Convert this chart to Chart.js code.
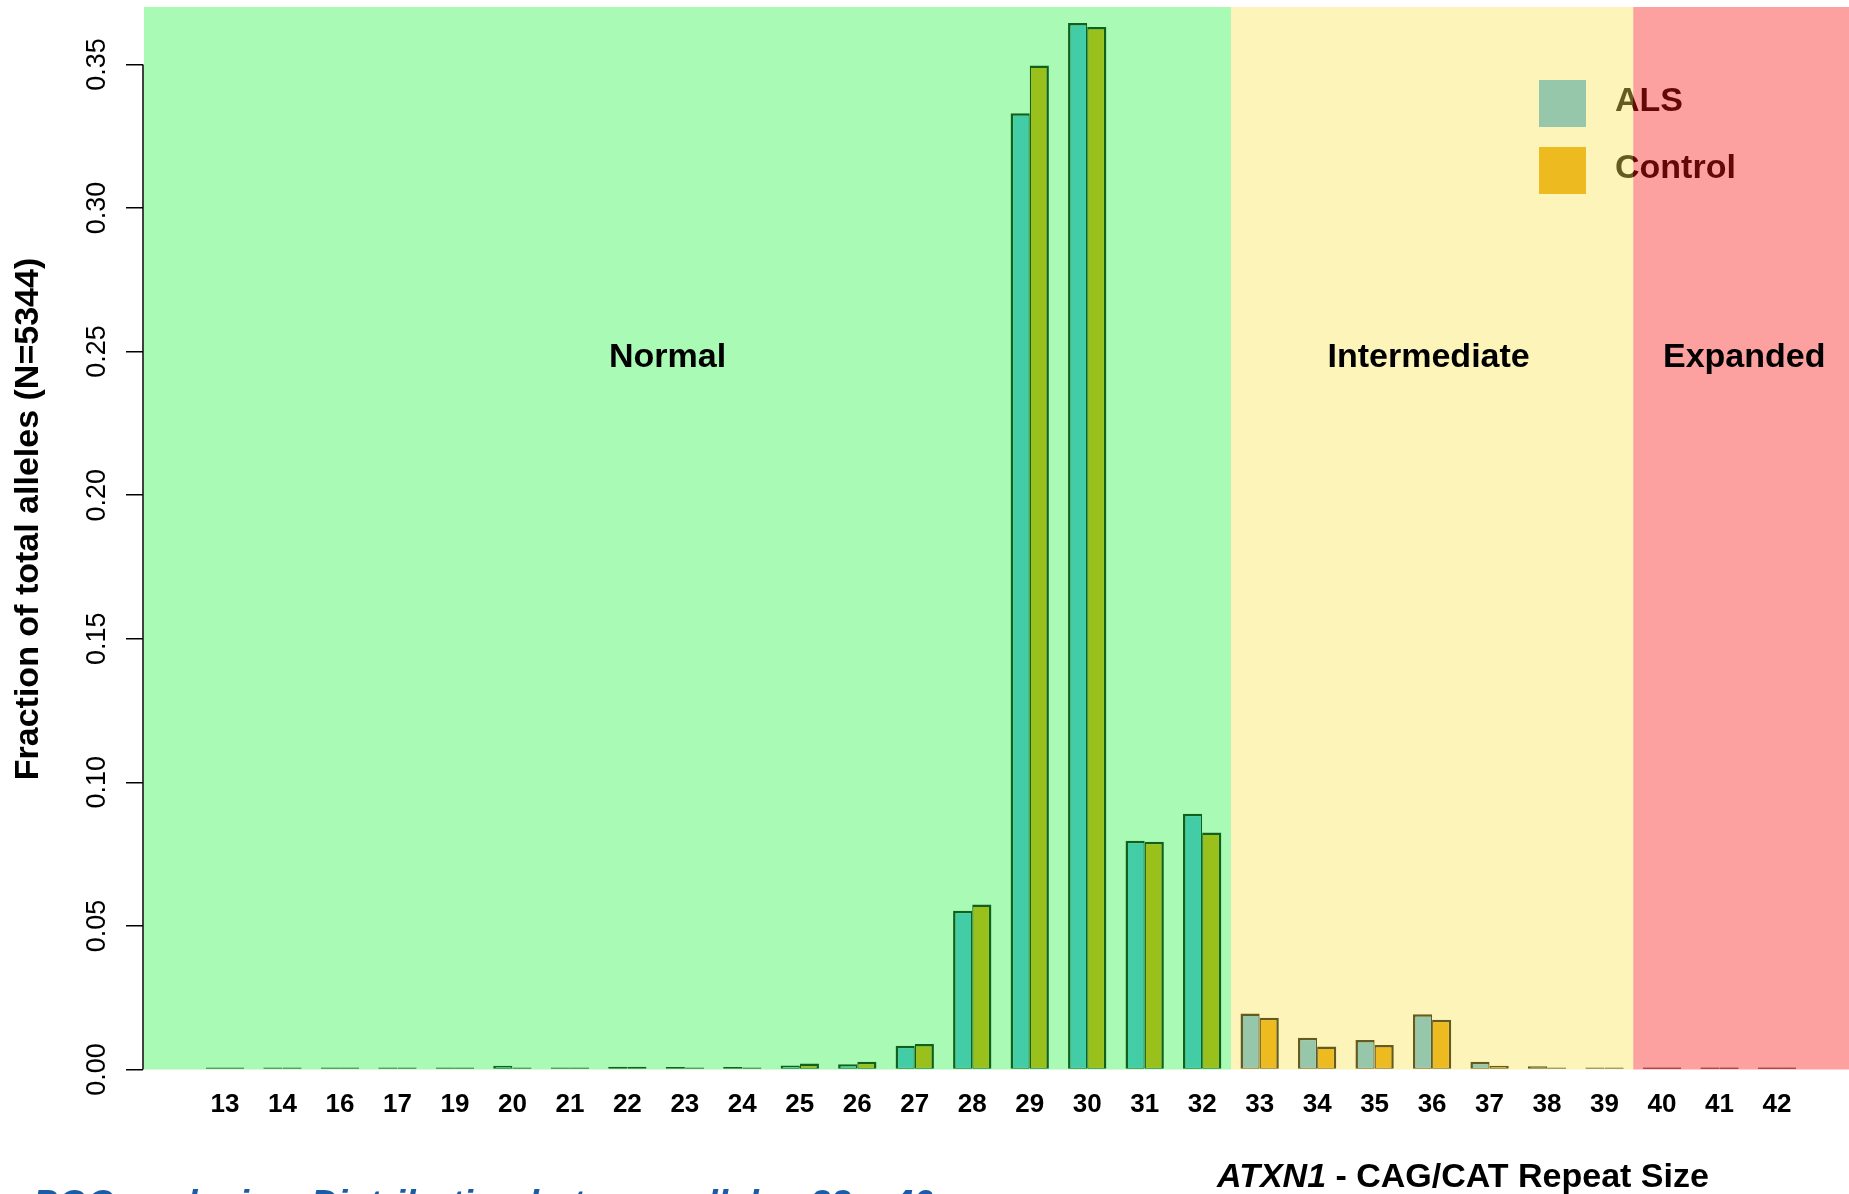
<!DOCTYPE html>
<html>
<head>
<meta charset="utf-8">
<title>ATXN1 CAG/CAT repeat size distribution</title>
<script src="https://cdn.jsdelivr.net/npm/chart.js@4.4.1/dist/chart.umd.min.js"></script>
<style>
  html, body { margin: 0; padding: 0; background: #ffffff; overflow: hidden; }
  #wrap { position: relative; width: 1849px; height: 1194px; }
</style>
</head>
<body>
<div id="wrap"><canvas id="chart" width="1849" height="1194"></canvas></div>
<script>
// Repeat sizes observed (15 and 18 absent)
const repeatSizes = ['13', '14', '16', '17', '19', '20', '21', '22', '23', '24', '25', '26', '27', '28',
                     '29', '30', '31', '32', '33', '34', '35', '36', '37', '38', '39', '40', '41', '42'];

// Fraction of total alleles per repeat size
const alsFraction = [0.0005, 0.0007, 0.0002, 0.0005, 0.0004, 0.0013, 0.0005, 0.0010, 0.0009, 0.0009,
                     0.0014, 0.0018, 0.0083, 0.0553, 0.3330, 0.3644, 0.0797, 0.0891, 0.0195, 0.0111,
                     0.0103, 0.0192, 0.0027, 0.0011, 0.0007, 0.0006, 0.0006, 0.0002];
const controlFraction = [0.0002, 0.0004, 0.0005, 0.0002, 0.0004, 0.0002, 0.0005, 0.0010, 0.0005, 0.0002,
                         0.0021, 0.0027, 0.0089, 0.0575, 0.3496, 0.3630, 0.0793, 0.0825, 0.0180, 0.0080,
                         0.0085, 0.0173, 0.0013, 0.0005, 0.0002, 0.0006, 0.0002, 0.0006];

const seriesNames = ['ALS', 'Control'];
const yTickValues = [0.00, 0.05, 0.10, 0.15, 0.20, 0.25, 0.30, 0.35];

// Repeat-size zones: first size of each zone
const zoneNames = ['Normal', 'Intermediate', 'Expanded'];
const zoneFirstSize = ['13', '33', '40'];

const yTitle = 'Fraction of total alleles (N=5344)';
const xTitleGene = 'ATXN1';
const xTitleRest = ' - CAG/CAT Repeat Size';
const footNote = 'POC analysis \u2013 Distribution between alleles 33 \u2013 40';

const FONT = "'Liberation Sans', Arial, Helvetica, sans-serif";
Chart.defaults.font.family = FONT;

const seriesColors = ['#56B4E9', '#E69F00'];
const zoneColors = ['rgba(38,242,68,0.4)', 'rgba(248,228,78,0.4)', 'rgba(248,18,18,0.4)'];

// Zones are shaded with translucent fills laid over bars and legend,
// zone names are written on top.
const zonePlugin = {
  id: 'zones',
  afterDatasetsDraw(chart) {
    const { ctx, chartArea, scales } = chart;
    const x = scales.x, y = scales.y;

    // legend (under the shading)
    ctx.save();
    const swX = 1539, swSize = 47, tops = [80, 147];
    seriesNames.forEach((name, i) => {
      ctx.fillStyle = seriesColors[i];
      ctx.fillRect(swX, tops[i], swSize, swSize);
      ctx.fillStyle = '#000';
      ctx.font = `bold 34px ${FONT}`;
      ctx.textBaseline = 'middle';
      ctx.textAlign = 'left';
      ctx.fillText(name, 1615, tops[i] + swSize / 2 - 2);
    });
    ctx.restore();

    // shaded zones
    const starts = zoneFirstSize.map(s => repeatSizes.indexOf(s));
    const y0 = y.getPixelForValue(0);
    ctx.save();
    zoneNames.forEach((name, i) => {
      const left = i === 0 ? chartArea.left + 1 : x.getPixelForValue(starts[i] - 0.5);
      const right = i === zoneNames.length - 1 ? chartArea.right : x.getPixelForValue(starts[i + 1] - 0.5);
      ctx.fillStyle = zoneColors[i];
      ctx.fillRect(left, chartArea.top, right - left, y0 - chartArea.top);
    });
    ctx.restore();

    // zone names, anchored on the repeat-size axis
    const labelAt = [7.7, 20.94, 26.43];
    ctx.save();
    ctx.fillStyle = '#000';
    ctx.font = `bold 34px ${FONT}`;
    ctx.textAlign = 'center';
    ctx.textBaseline = 'middle';
    zoneNames.forEach((name, i) => {
      ctx.fillText(name, x.getPixelForValue(labelAt[i]), y.getPixelForValue(0.248));
    });
    ctx.restore();

    // y axis line from first to last tick
    ctx.save();
    ctx.strokeStyle = '#000';
    ctx.lineWidth = 1.5;
    ctx.beginPath();
    ctx.moveTo(chartArea.left, y.getPixelForValue(yTickValues[0]));
    ctx.lineTo(chartArea.left, y.getPixelForValue(yTickValues[yTickValues.length - 1]));
    ctx.stroke();
    ctx.restore();
  },
  afterDraw(chart) {
    const { ctx } = chart;
    ctx.save();
    // y axis title
    ctx.fillStyle = '#000';
    ctx.font = `bold 34px ${FONT}`;
    ctx.textAlign = 'center';
    ctx.textBaseline = 'middle';
    ctx.translate(29, 519);
    ctx.rotate(-Math.PI / 2);
    ctx.fillText(yTitle, 0, 0);
    ctx.restore();

    // x axis title: italic gene name + plain remainder
    ctx.save();
    ctx.fillStyle = '#000';
    ctx.textBaseline = 'middle';
    ctx.textAlign = 'left';
    const fGene = `italic bold 34px ${FONT}`;
    const fRest = `bold 34px ${FONT}`;
    ctx.font = fGene;
    const wGene = ctx.measureText(xTitleGene).width;
    ctx.font = fRest;
    const wRest = ctx.measureText(xTitleRest).width;
    const startX = 1463 - (wGene + wRest) / 2;
    ctx.font = fGene;
    ctx.fillText(xTitleGene, startX, 1178);
    ctx.font = fRest;
    ctx.fillText(xTitleRest, startX + wGene, 1178);
    ctx.restore();

    // footnote line running off the bottom edge
    ctx.save();
    ctx.fillStyle = '#1A5CA8';
    ctx.font = `italic bold 37px ${FONT}`;
    ctx.textAlign = 'left';
    ctx.textBaseline = 'alphabetic';
    ctx.fillText(footNote, 33, 1216);
    ctx.restore();
  }
};

const idx = repeatSizes.map((_, i) => i);

const barStyle = {
  borderColor: '#000000',
  borderSkipped: false,
  minBarLength: 2,
  categoryPercentage: 2 / 3,
  barPercentage: 1
};

new Chart(document.getElementById('chart'), {
  type: 'bar',
  data: {
    datasets: [
      Object.assign({
        label: seriesNames[0],
        data: alsFraction.map((v, i) => ({ x: idx[i], y: v })),
        backgroundColor: seriesColors[0],
        borderWidth: { top: 2.5, left: 2.5, right: 1.25, bottom: 1 }
      }, barStyle),
      Object.assign({
        label: seriesNames[1],
        data: controlFraction.map((v, i) => ({ x: idx[i], y: v })),
        backgroundColor: seriesColors[1],
        borderWidth: { top: 2.5, left: 1.25, right: 2.5, bottom: 1 }
      }, barStyle)
    ]
  },
  options: {
    responsive: false,
    animation: false,
    devicePixelRatio: 1,
    layout: { padding: { top: 7, left: 0, right: 0, bottom: 0 } },
    plugins: { legend: { display: false }, tooltip: { enabled: false } },
    scales: {
      x: {
        type: 'linear',
        min: -1.4265,
        max: 28.253,
        offset: false,
        grid: { display: false, drawTicks: false },
        border: { display: false },
        afterBuildTicks: s => { s.ticks = idx.map(v => ({ value: v })); },
        afterFit: s => { s.height = 124.5; s.paddingLeft = 0; s.paddingRight = 0; },
        ticks: {
          autoSkip: false,
          maxRotation: 0,
          minRotation: 0,
          padding: 20,
          color: '#000',
          font: { size: 26, weight: 'bold' },
          callback: v => repeatSizes[v]
        }
      },
      y: {
        min: 0,
        max: 0.37,
        afterBuildTicks: s => { s.ticks = yTickValues.map(v => ({ value: v })); },
        afterFit: s => { s.width = 143; s.paddingTop = 0; s.paddingBottom = 0; },
        grid: { display: true, drawOnChartArea: false, drawTicks: true, tickLength: 17, color: '#000', lineWidth: 1.5 },
        border: { display: false },
        ticks: {
          minRotation: 90,
          maxRotation: 90,
          crossAlign: 'center',
          padding: 2,
          color: '#000',
          font: { size: 27 },
          callback: v => v.toFixed(2)
        }
      }
    }
  },
  plugins: [zonePlugin]
});
</script>
</body>
</html>
